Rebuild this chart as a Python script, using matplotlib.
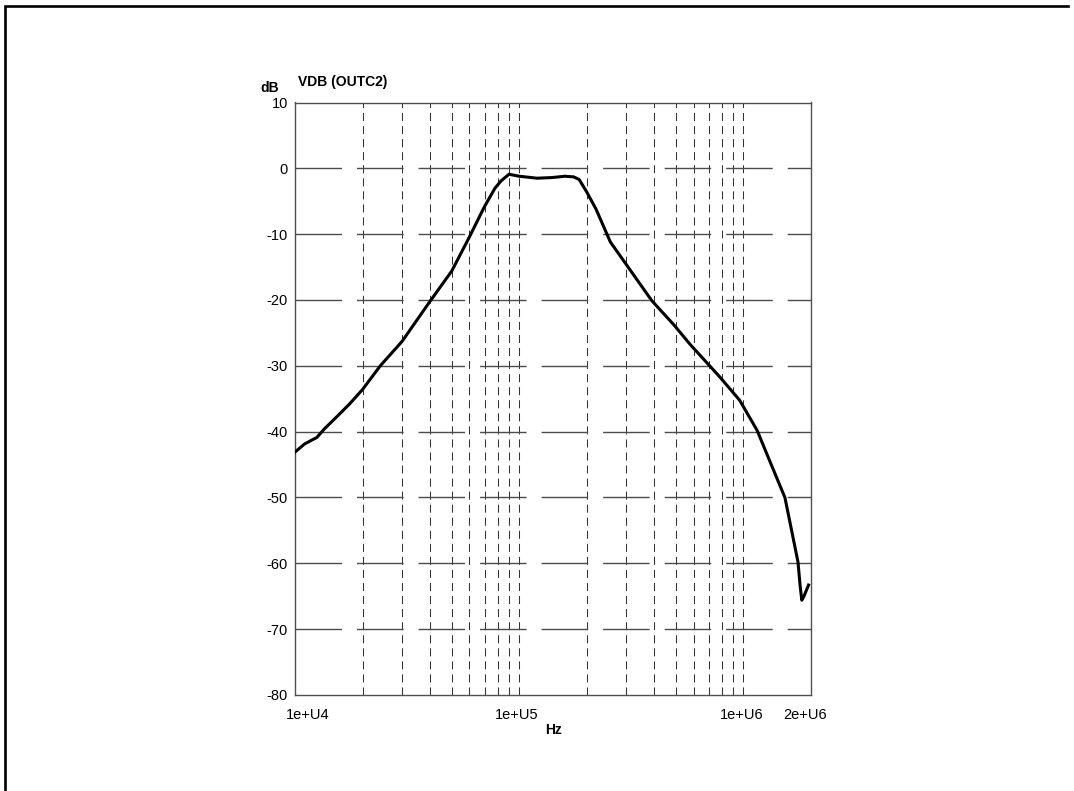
import numpy as np
import matplotlib
matplotlib.use("Agg")
import matplotlib.pyplot as plt
from matplotlib import transforms
from matplotlib.lines import Line2D

plt.rcParams['font.family'] = ['Liberation Sans', 'DejaVu Sans']
plt.rcParams['lines.scale_dashes'] = False

# curve (Hz, dB)
freq = [1.0e4, 1.1e4, 1.2e4, 1.25e4, 1.35e4, 1.55e4, 1.75e4, 2.0e4, 2.4e4, 3.0e4,
        4.0e4, 5.0e4, 6.0e4, 7.0e4, 7.8e4, 8.3e4, 9.0e4, 1.0e5, 1.2e5, 1.4e5,
        1.6e5, 1.75e5, 1.85e5, 2.0e5, 2.2e5, 2.55e5, 3.0e5, 3.9e5, 4.9e5, 5.8e5,
        7.8e5, 9.6e5, 1.15e6, 1.3e6, 1.53e6, 1.65e6, 1.75e6, 1.79e6, 1.82e6,
        1.86e6, 1.95e6]
vdb = [-43.1, -41.9, -41.2, -40.9, -39.6, -37.6, -35.8, -33.6, -30.0, -26.3,
       -20.2, -15.6, -10.4, -5.8, -3.0, -1.9, -0.9, -1.2, -1.5, -1.4,
       -1.2, -1.3, -1.7, -3.6, -6.2, -11.2, -14.6, -20.1, -23.8, -26.8,
       -31.6, -35.2, -39.8, -44.2, -50.0, -55.5, -59.8, -63.5, -65.6,
       -65.0, -63.3]

y_ticks = list(range(-80, 11, 10))
x_major = [1e4, 1e5, 1e6, 2e6]
x_major_labels = ['1e+U4', '1e+U5', '1e+U6', '2e+U6']
x_minor = [m * 10 ** e for e in (4, 5) for m in range(2, 10)] + [1e5, 1e6]

W, H = 1074, 791
fig = plt.figure(figsize=(W / 100, H / 100), dpi=100)
ax = fig.add_axes([295 / W, 1 - 695 / H, (811 - 295) / W, (695 - 102.5) / H])

ax.set_xscale('log')
ax.set_xlim(1e4, 2e6)
ax.set_ylim(-80, 10)

# grid
for f in x_minor:
    ax.axvline(f, color='#333333', lw=0.75, ls=(0, (5.8, 3.6)), zorder=1)
for v in y_ticks[1:-1]:
    ax.axhline(v, color='#4c4c4c', lw=1.0, ls=(0, (33.5, 10.8)), zorder=1)

ax.plot(freq, vdb, color='black', lw=2.2, solid_joinstyle='round', zorder=3)

for s in ax.spines.values():
    s.set_color('#505050')
    s.set_linewidth(1.0)

ax.set_yticks(y_ticks)
ax.set_yticklabels([str(v) for v in y_ticks], fontsize=10.5)
ax.tick_params(axis='y', length=0, pad=5)
ax.set_xticks([], minor=True)
ax.set_xticks([])

# x labels, nudged like the original
shifts = [13, -3, -2, -6]
for f, lab, dx in zip(x_major, x_major_labels, shifts):
    tr = transforms.offset_copy(ax.get_xaxis_transform(), fig=fig,
                                x=dx * 0.72, y=-20 * 0.72, units='points')
    ax.text(f, 0, lab, transform=tr, ha='center', va='center', fontsize=10.5)

fig.text(554 / W, 1 - 729.5 / H, 'Hz', ha='center', va='center',
         fontsize=10, fontweight='bold')
fig.text(270 / W, 1 - 88 / H, 'dB', ha='center', va='center',
         fontsize=10, fontweight='bold')
fig.text(298 / W, 1 - 82 / H, 'VDB (OUTC2)', ha='left', va='center',
         fontsize=10, fontweight='bold')

# outer frame (left and top edges only)
fig.add_artist(Line2D([5 / W, 5 / W, 1068 / W], [0, 1 - 6 / H, 1 - 6 / H],
                      transform=fig.transFigure, color='black', lw=1.9,
                      solid_joinstyle='miter'))

fig.savefig('out.png', dpi=100, facecolor='white')
